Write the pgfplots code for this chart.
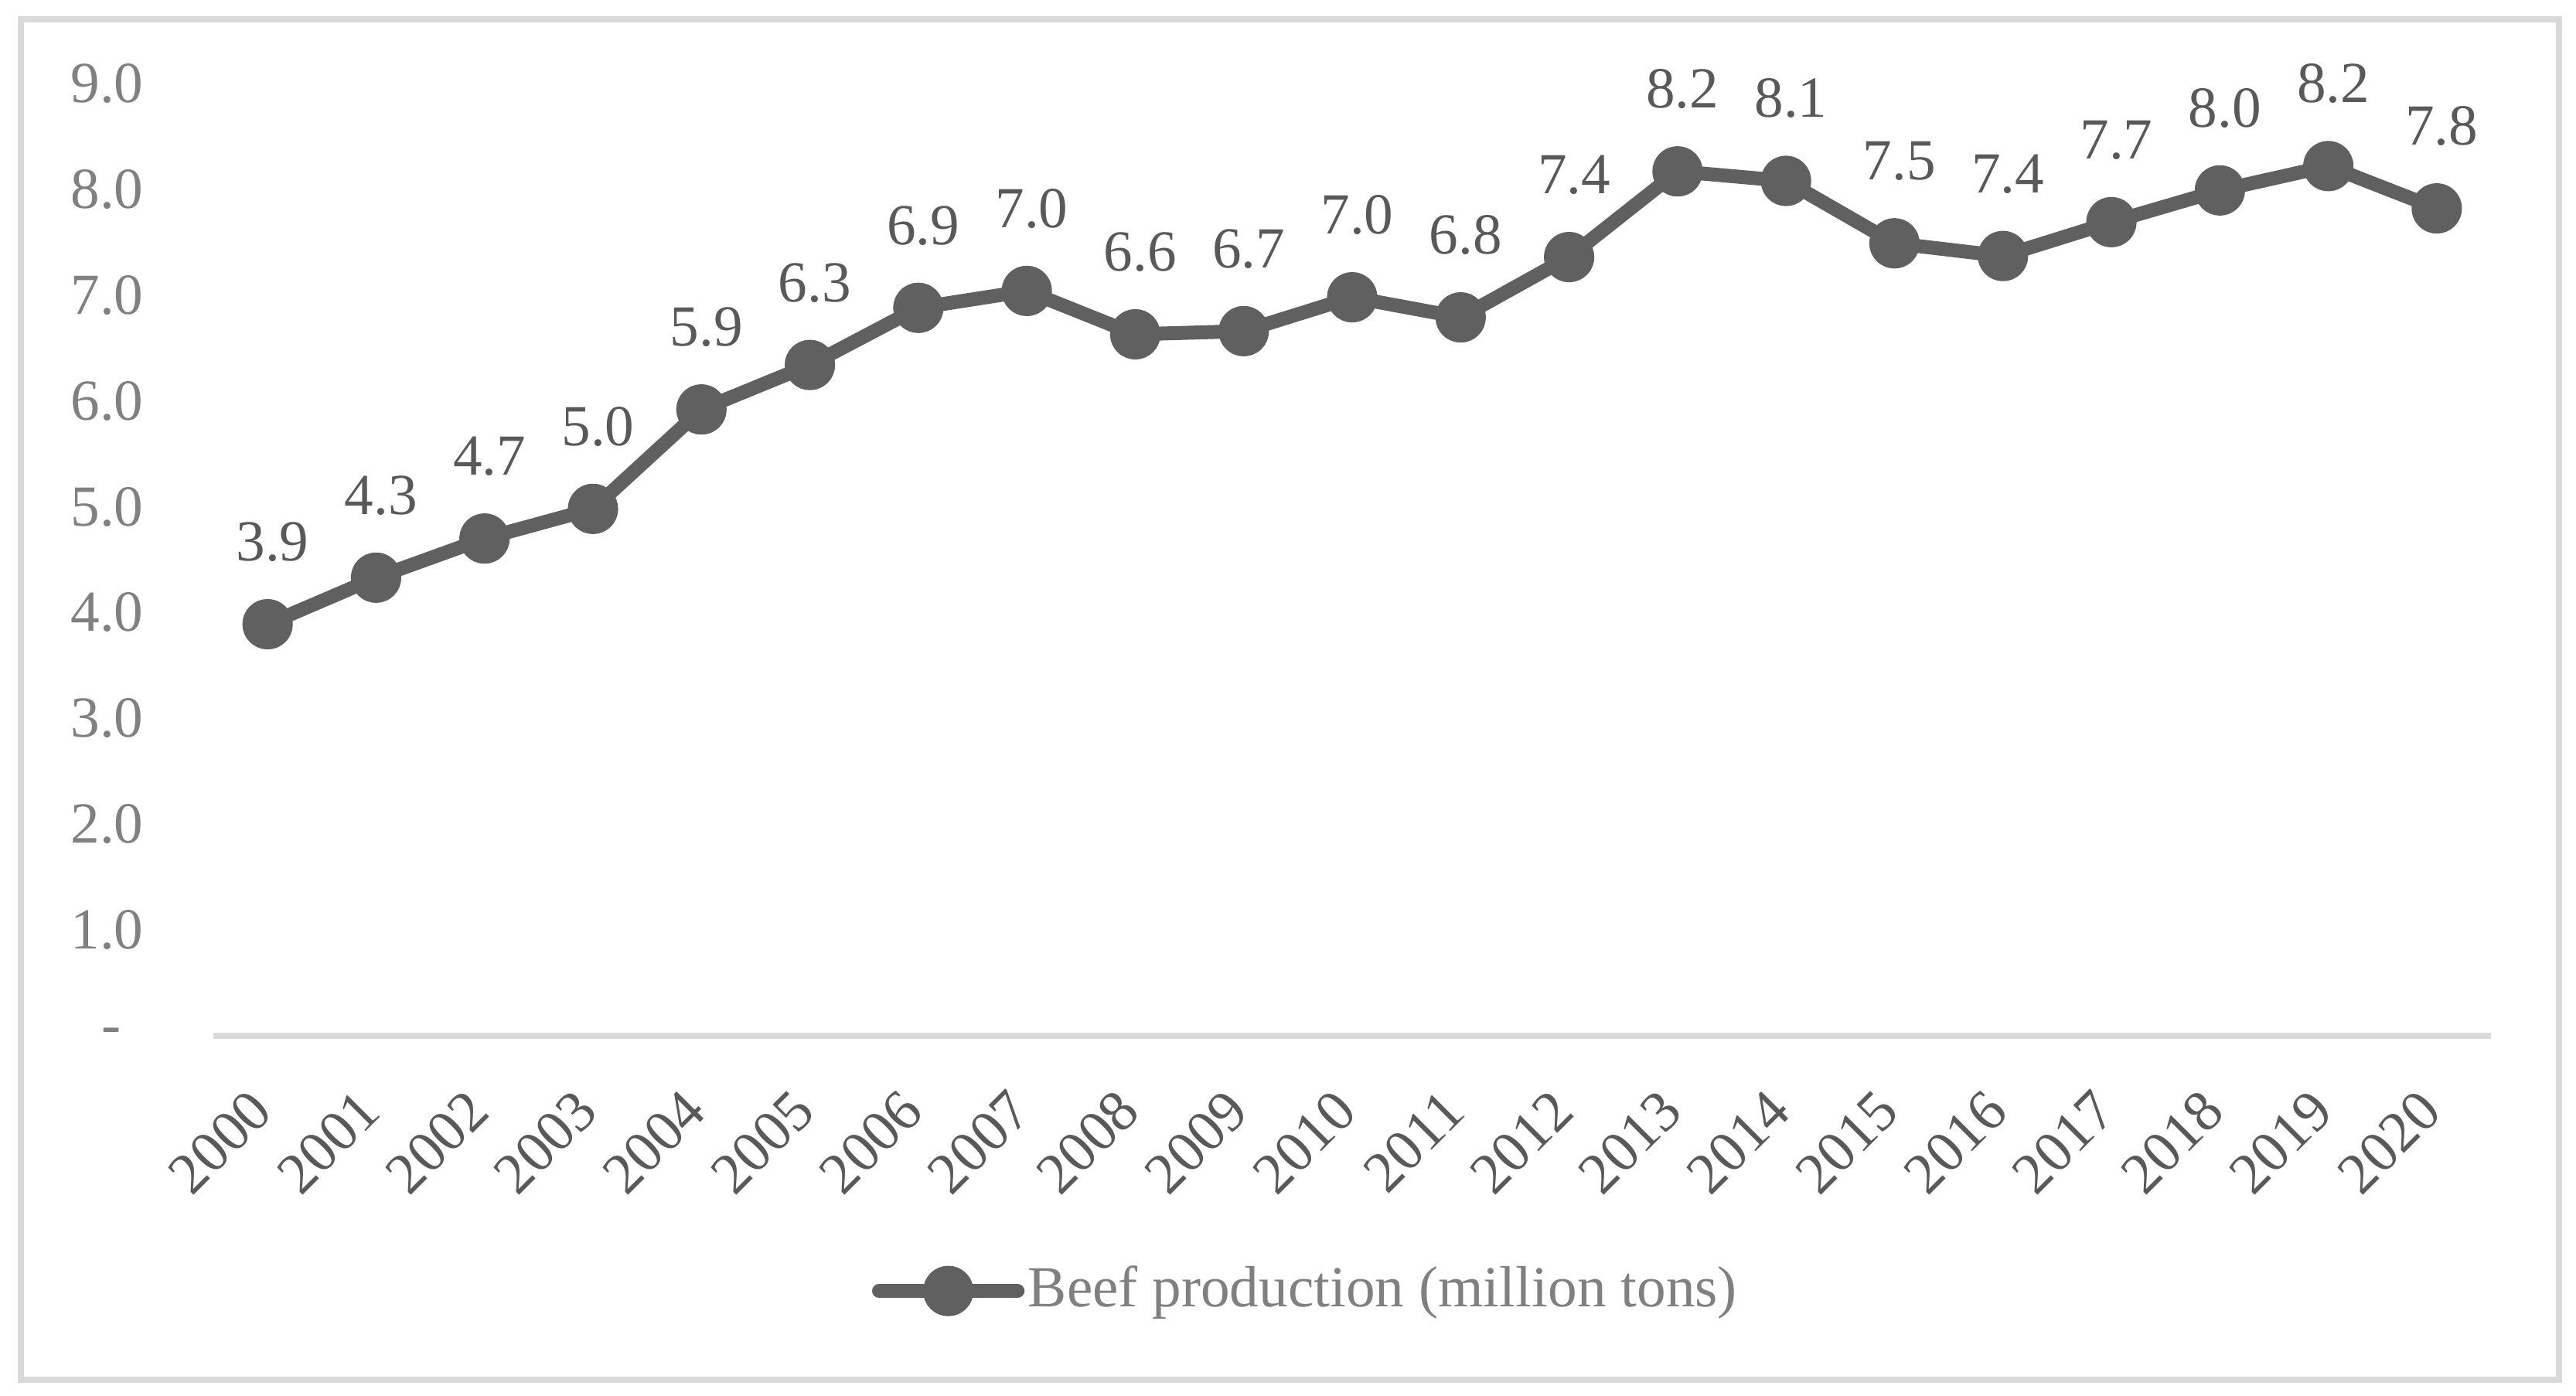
\documentclass[border=0pt]{standalone}
\usepackage{fontspec}
\setmainfont{Liberation Serif}
\usepackage{pgfplots}
\pgfplotsset{compat=1.18}

\definecolor{linegray}{HTML}{606060}
\definecolor{labgray}{HTML}{595959}
\definecolor{tickgray}{HTML}{808080}
\definecolor{framegray}{HTML}{D9D9D9}

\pgfplotstableread{
x  y     lab
0  3.89  3.9
1  4.33  4.3
2  4.70  4.7
3  4.98  5.0
4  5.92  5.9
5  6.34  6.3
6  6.88  6.9
7  7.04  7.0
8  6.63  6.6
9  6.66  6.7
10 6.98  7.0
11 6.79  6.8
12 7.36  7.4
13 8.17  8.2
14 8.08  8.1
15 7.49  7.5
16 7.37  7.4
17 7.69  7.7
18 7.99  8.0
19 8.22  8.2
20 7.82  7.8
}\beefdata

\begin{document}
\begin{tikzpicture}[font=\fontsize{9.4}{11}\selectfont]
\useasboundingbox (-34.5pt,-58.125pt) rectangle (382pt,167.5pt);
\draw[framegray, line width=1pt] (-31.1pt,-55.6pt) rectangle (379.2pt,164.4pt);
\begin{axis}[
    at={(0pt,0pt)}, anchor=south west,
    scale only axis,
    width=368.25pt, height=154pt,
    xmin=-0.5, xmax=20.5,
    ymin=0, ymax=9,
    clip=false,
    separate axis lines,
    axis x line*=bottom,
    axis y line*=left,
    x axis line style={draw=framegray, line width=1pt},
    y axis line style={draw=none},
    major tick length=0pt,
    xtick={0,...,20},
    xticklabels={2000,2001,2002,2003,2004,2005,2006,2007,2008,2009,2010,2011,2012,2013,2014,2015,2016,2017,2018,2019,2020},
    ytick={0,...,9},
    yticklabels={-\hspace*{3.6pt},1.0,2.0,3.0,4.0,5.0,6.0,7.0,8.0,9.0},
    xticklabel style={xshift=-0.9pt, yshift=-10.4pt, rotate=45, anchor=east, inner sep=0pt, text=labgray},
    yticklabel style={anchor=east, inner sep=0pt, xshift=-11.1pt, text=tickgray},
    legend style={at={(axis description cs:0.2892,-0.268)}, anchor=west,
        draw=none, fill=none, inner sep=0pt, outer sep=0pt,
        text=tickgray, nodes={inner sep=0pt}, column sep=0.6pt},
    legend image code/.code={\draw[mark repeat=2, mark phase=2, #1] plot coordinates {(0pt,0pt) (11.2pt,0pt) (22.4pt,0pt)};},
]
\addplot[
    color=linegray,
    line width=2.25pt,
    line cap=round, line join=round,
    mark=*,
    mark size=2.95pt,
    mark options={fill=linegray, draw=none},
    nodes near coords,
    point meta=explicit symbolic,
    every node near coord/.append style={anchor=south, inner sep=0pt, xshift=0.8pt, yshift=9pt, text=labgray},
] table[x=x, y=y, meta=lab] {\beefdata};
\addlegendentry{Beef production (million tons)}
\end{axis}
\end{tikzpicture}
\end{document}
